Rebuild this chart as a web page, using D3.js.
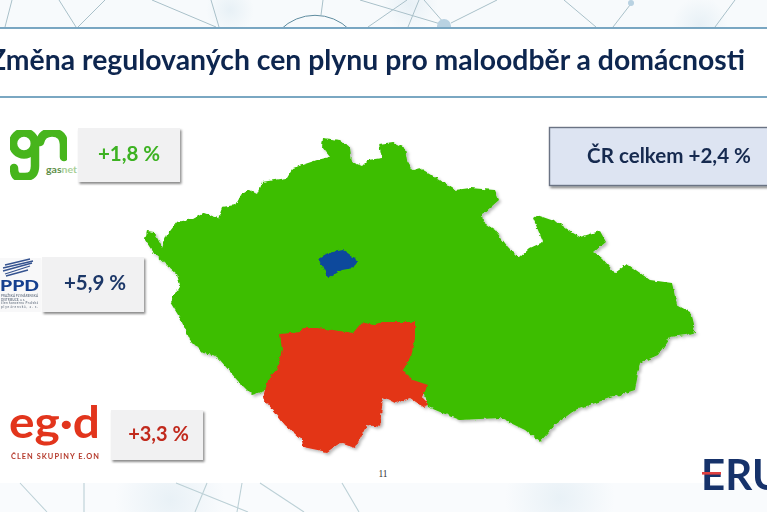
<!DOCTYPE html>
<html lang="cs">
<head>
<meta charset="utf-8">
<title>Změna regulovaných cen plynu</title>
<script src="https://cdn.jsdelivr.net/npm/d3@7/dist/d3.min.js"></script>
<style>
html,body{margin:0;padding:0;background:#fff;overflow:hidden}
svg{display:block}
text{font-family:Lato,"Open Sans",sans-serif}
</style>
</head>
<body>
<svg id="c" width="767" height="512" viewBox="0 0 767 512"></svg>
<script>
// ---------- data ----------
const titleText = "Změna regulovaných cen plynu pro maloodběr a domácnosti";
const pageNumber = "11";
const totalLabel = "ČR celkem";
const totalChange = 2.4;
const distributors = ["gas", "net"];
const changes = [1.8, 5.9, 3.3];

// map outlines in map units (width 550, height 314)
const greenOutline = [[0,102],[2,93],[9,94],[17,109],[22,97],[32,84],[48,81],[59,75],[73,80],[77,69],[90,67],[95,58],[104,52],[112,56],[117,44],[142,40],[148,30],[172,22],[185,19],[177,9],[178,0],[195,2],[205,10],[207,24],[217,28],[223,22],[237,20],[234,6],[248,4],[260,10],[262,22],[268,32],[275,30],[295,42],[310,52],[325,50],[350,52],[354,62],[337,77],[338,84],[350,92],[363,109],[374,120],[385,110],[398,104],[388,80],[392,77],[412,84],[428,95],[435,99],[455,93],[461,104],[449,114],[457,120],[470,135],[482,126],[488,130],[505,142],[527,145],[532,167],[545,174],[550,194],[540,197],[525,199],[513,217],[495,225],[490,252],[465,260],[430,272],[410,287],[395,304],[380,292],[355,280],[315,282],[300,276],[283,269],[280,257],[155,222],[123,252],[107,257],[92,242],[75,222],[68,217],[58,215],[45,202],[35,180],[25,164],[35,147],[32,137],[10,117]];
const redOutline = [[135,196],[155,194],[158,190],[173,190],[188,192],[208,195],[217,184],[228,187],[237,184],[270,184],[270,199],[266,219],[258,232],[268,242],[283,247],[277,259],[283,265],[280,270],[265,260],[250,265],[238,259],[235,289],[222,287],[210,310],[195,305],[182,314],[158,309],[157,302],[140,287],[118,260],[123,242],[132,230],[137,212]];
const blueOutline = [[174,120],[183,115],[198,112],[210,120],[212,124],[208,130],[197,132],[183,140],[178,130]];

// faint background network, page coordinates
const netTop = [[59,0,76,27],[105,0,78,27],[152,0,216,27],[211,0,219,27],[360,0,444,25],[323,0,321,15],[407,0,368,27],[419,0,408,27],[424,0,444,23],[497,0,451,23],[564,0,596,27],[630,5,613,27],[735,0,715,27],[12,0,5,27]];
const netBottom = [[20,483,47,512],[84,483,84,512],[176,483,248,512],[207,483,195,512],[242,483,237,512],[260,483,304,512],[342,483,359,512]];

// ---------- scales ----------
const x = d3.scaleLinear().domain([0,550]).range([145,695]);
const y = d3.scaleLinear().domain([0,314]).range([138,452]);
const outline = d3.line().x(d=>x(d[0])).y(d=>y(d[1])).curve(d3.curveLinearClosed);
const pct = v => "+" + d3.format(".1f")(v).replace(".", ",") + " %";

const svg = d3.select("#c");
const defs = svg.append("defs");

const soft = defs.append("filter").attr("id","soft").attr("x","-5%").attr("y","-5%").attr("width","110%").attr("height","110%");
soft.append("feGaussianBlur").attr("stdDeviation",0.4);

const mapF = defs.append("filter").attr("id","rough").attr("x","-5%").attr("y","-5%").attr("width","110%").attr("height","110%");
mapF.append("feTurbulence").attr("type","fractalNoise").attr("baseFrequency",0.22).attr("numOctaves",2).attr("seed",4).attr("result","n");
mapF.append("feDisplacementMap").attr("in","SourceGraphic").attr("in2","n").attr("scale",4).attr("xChannelSelector","R").attr("yChannelSelector","G").attr("result","d");
mapF.append("feGaussianBlur").attr("in","d").attr("stdDeviation",0.45).attr("result","b");
mapF.append("feDropShadow").attr("in","b").attr("dx",2).attr("dy",2).attr("stdDeviation",1.6).attr("flood-color","#000").attr("flood-opacity",0.28);

const cardF = defs.append("filter").attr("id","card").attr("x","-10%").attr("y","-15%").attr("width","120%").attr("height","130%");
cardF.append("feDropShadow").attr("dx",1.5).attr("dy",2).attr("stdDeviation",1.2).attr("flood-color","#000").attr("flood-opacity",0.45);

const blob = defs.append("radialGradient").attr("id","blob");
blob.append("stop").attr("offset","0%").attr("stop-color","#d8e7f0").attr("stop-opacity",0.5);
blob.append("stop").attr("offset","100%").attr("stop-color","#d8e7f0").attr("stop-opacity",0);

defs.append("clipPath").attr("id","topClip").append("rect").attr("width",767).attr("height",27);

// ---------- background ----------
svg.append("rect").attr("width",767).attr("height",512).attr("fill","#ffffff");
svg.append("rect").attr("width",767).attr("height",28).attr("fill","#f7fafc");
svg.append("rect").attr("y",483).attr("width",767).attr("height",29).attr("fill","#f9fbfd");
const bg = svg.append("g");
[[230,10,24],[410,4,28],[700,25,28],[170,500,55],[560,498,55]].forEach(b=>{
  bg.append("circle").attr("cx",b[0]).attr("cy",b[1]).attr("r",b[2]).attr("fill","url(#blob)");
});
svg.append("rect").attr("y",28).attr("width",767).attr("height",70).attr("fill","#fff");
svg.append("rect").attr("y",98).attr("width",767).attr("height",385).attr("fill","#fff");

const net = svg.append("g").attr("filter","url(#soft)");
net.selectAll("line.t").data(netTop).join("line").attr("class","t")
  .attr("x1",d=>d[0]).attr("y1",d=>d[1]).attr("x2",d=>d[2]).attr("y2",d=>d[3])
  .attr("stroke","#a9c0c9").attr("stroke-width",1);
net.selectAll("line.b").data(netBottom).join("line").attr("class","b")
  .attr("x1",d=>d[0]).attr("y1",d=>d[1]).attr("x2",d=>d[2]).attr("y2",d=>d[3])
  .attr("stroke","#bcd0d6").attr("stroke-width",1.1);
net.append("circle").attr("cx",444).attr("cy",26).attr("r",7).attr("fill","#b9d2e2").attr("clip-path","url(#topClip)");
net.append("circle").attr("cx",631).attr("cy",3).attr("r",3).attr("fill","#b9d2e2");
net.append("circle").attr("cx",315).attr("cy",64).attr("r",48.7).attr("fill","none").attr("stroke","#5f8c9f").attr("stroke-width",1).attr("clip-path","url(#topClip)");

// header rules
svg.append("rect").attr("y",27.2).attr("width",767).attr("height",1.6).attr("fill","#5a92b3");
svg.append("rect").attr("y",96.2).attr("width",767).attr("height",1.6).attr("fill","#5a92b3");

// title (the slide itself is cropped on the left, so the Z runs off the edge)
svg.append("text").attr("x",-11).attr("y",70)
  .attr("font-size",29).attr("font-weight",700).attr("fill","#10264f")
  .attr("textLength",756).attr("lengthAdjust","spacingAndGlyphs")
  .attr("filter","url(#soft)").text(titleText);

// ---------- map ----------
const map = svg.append("g").attr("filter","url(#rough)");
map.append("path").datum(greenOutline).attr("d",outline).attr("fill","#3cbe00");
map.append("path").datum(redOutline).attr("d",outline).attr("fill","#e33417");
map.append("path").datum(blueOutline).attr("d",outline).attr("fill","#0a4a9c");

// ---------- cards ----------
const cards = [
  {x:78,y:128,w:102,h:54,color:"#3cb221",fs:20.5,ty:161,tx:129},
  {x:42,y:257,w:102,h:55,color:"#1c3768",fs:20.5,ty:290,tx:95},
  {x:111,y:410,w:92,h:50,color:"#c12a1f",fs:20,ty:441,tx:158.5}
];
const cg = svg.selectAll("g.card").data(cards).join("g").attr("class","card");
cg.append("rect").attr("x",d=>d.x).attr("y",d=>d.y).attr("width",d=>d.w).attr("height",d=>d.h)
  .attr("fill","#f1f1f2").attr("filter","url(#card)");
cg.append("text").attr("x",d=>d.tx).attr("y",d=>d.ty).attr("text-anchor","middle")
  .attr("font-size",d=>d.fs).attr("font-weight",700).attr("fill",d=>d.color)
  .attr("filter","url(#soft)").text((d,i)=>pct(changes[i]));

// total card
svg.append("rect").attr("x",549.5).attr("y",127.5).attr("width",230).attr("height",58)
  .attr("fill","#dde4f2").attr("stroke","#6b7384").attr("stroke-width",1.4).attr("filter","url(#card)");
svg.append("text").attr("x",751).attr("y",163).attr("text-anchor","end")
  .attr("font-size",20.6).attr("font-weight",700).attr("fill","#15294f").attr("filter","url(#soft)")
  .text(totalLabel + " " + pct(totalChange));

// ---------- logos ----------
// gasnet
const gn = svg.append("g").attr("fill","none").attr("stroke","#46b51f").attr("stroke-width",8.5).attr("stroke-linecap","round").attr("filter","url(#soft)");
gn.append("circle").attr("cx",24).attr("cy",143.5).attr("r",11);
gn.append("path").attr("d","M35 140 V166 Q35 177 25 177 H20 Q14 177 14 168");
gn.append("path").attr("d","M40 142 Q42 132.5 52 132.5 Q64 132.5 64 146 V157");
const gt = svg.append("text").attr("x",46).attr("y",173).attr("font-size",10).attr("font-weight",700)
  .attr("textLength",31).attr("lengthAdjust","spacingAndGlyphs");
gt.append("tspan").attr("fill","#5f8f4a").text(distributors[0]);
gt.append("tspan").attr("fill","#a9cf97").text(distributors[1]);

// PPD
const ppd = svg.append("g").attr("filter","url(#soft)");
ppd.append("rect").attr("x",0).attr("y",258).attr("width",41).attr("height",54).attr("fill","#f8f8f9");
[[3,271,32,263],[5,274,30,266],[3,268,33,261],[6,276,28,270],[5,265,30,259]].forEach(s=>{
  ppd.append("line").attr("x1",s[0]).attr("y1",s[1]).attr("x2",s[2]).attr("y2",s[3]).attr("stroke","#34528f").attr("stroke-width",1.3);
});
ppd.append("text").attr("x",0).attr("y",291).attr("font-size",14.5).attr("font-weight",900)
  .attr("fill","#14408f").attr("textLength",39).attr("lengthAdjust","spacingAndGlyphs").text("PPD");
["PRAŽSKÁ PLYNÁRENSKÁ","DISTRIBUCE, a. s.","člen koncernu Pražská","plynárenská, a. s."].forEach((t,i)=>{
  ppd.append("text").attr("x",1).attr("y",297+i*3.6).attr("font-size",3).attr("font-weight",700)
    .attr("fill","#76808f").attr("textLength",i===1?24:37).text(t);
});

// eg.d
const eg = svg.append("g").attr("filter","url(#soft)");
eg.append("text").attr("x",9).attr("y",438).attr("font-size",43).attr("font-weight",700)
  .attr("fill","#e2341d").attr("textLength",91).attr("lengthAdjust","spacingAndGlyphs").text("eg·d");
eg.append("text").attr("x",11).attr("y",459).attr("font-size",7.4).attr("font-weight",700)
  .attr("fill","#b53a2c").attr("textLength",88).text("ČLEN SKUPINY E.ON");

// ERU
const eru = svg.append("g").attr("filter","url(#soft)");
eru.append("text").attr("x",701).attr("y",490).attr("font-size",42).attr("font-weight",700)
  .attr("fill","#15306b").text("ERU");
eru.append("rect").attr("x",702).attr("y",472).attr("width",19).attr("height",2.6).attr("fill","#df4040");

// page number
svg.append("text").attr("x",383).attr("y",477).attr("text-anchor","middle")
  .attr("font-size",9.5).attr("fill","#333").style("font-family","'Liberation Serif',serif").text(pageNumber);
</script>
</body>
</html>
